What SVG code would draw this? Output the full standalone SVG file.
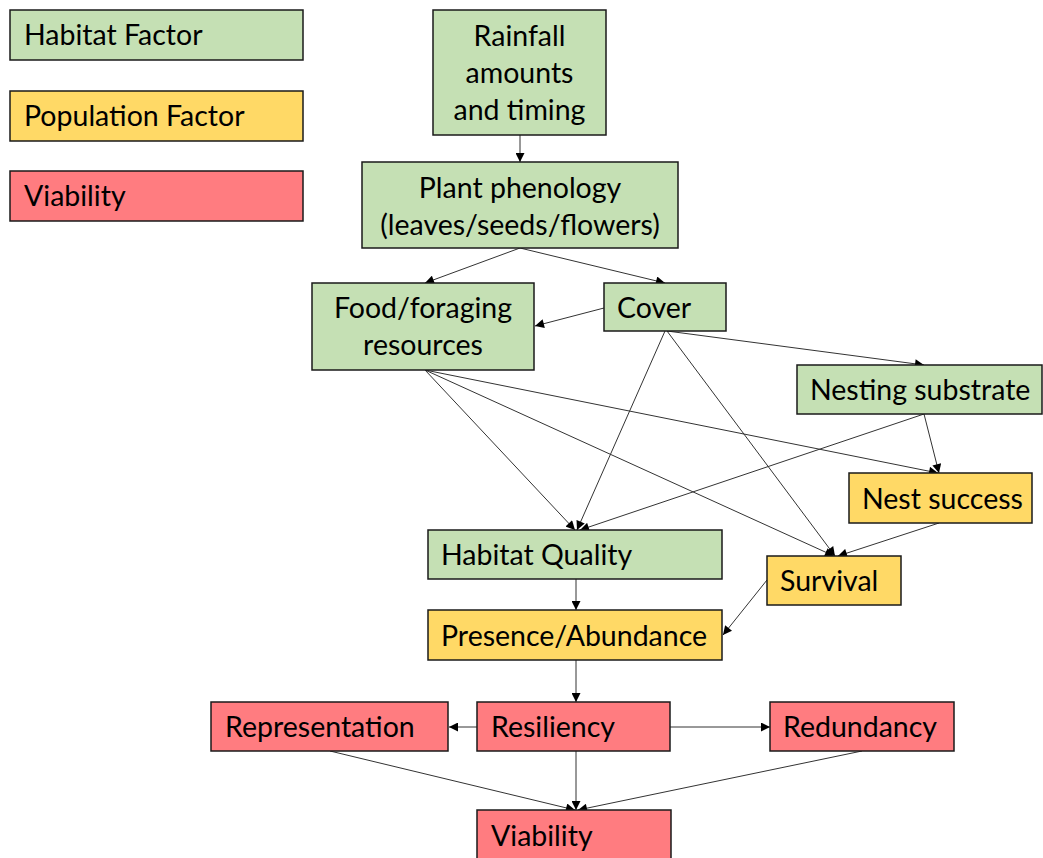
<svg xmlns="http://www.w3.org/2000/svg" width="1043" height="858" viewBox="0 0 1043 858">
<defs>
<marker id="ah" viewBox="0 0 10 10" refX="10" refY="5" markerWidth="10" markerHeight="9" markerUnits="userSpaceOnUse" orient="auto">
<path d="M0,0 L10,5 L0,10 z" fill="#000"/>
</marker>
<style>
.g{fill:#C5E0B4}.y{fill:#FFD966}.r{fill:#FF7C80}
rect{stroke:#1a1a1a;stroke-width:1.5}
text{font-family:Lato,"Open Sans","Liberation Sans",sans-serif;font-size:28.5px;fill:#000}
.c{text-anchor:middle}
#connectors line{stroke:#333;stroke-width:1;marker-end:url(#ah)}
</style>
</defs>
<rect width="1043" height="858" fill="#fff" style="stroke:none"/>
<g id="legend-habitat"><rect class="g" x="10" y="10" width="293" height="50"/><text x="24" y="45">Habitat Factor</text></g>
<g id="legend-population"><rect class="y" x="10" y="91" width="293" height="50"/><text x="24" y="126">Population Factor</text></g>
<g id="legend-viability"><rect class="r" x="10" y="171" width="293" height="50"/><text x="24" y="206">Viability</text></g>

<g id="connectors">
<line x1="520" y1="135" x2="520" y2="162"/>
<line x1="520" y1="248" x2="425" y2="283"/>
<line x1="520" y1="248" x2="665" y2="283"/>
<line x1="604" y1="308" x2="535" y2="326"/>
<line x1="667" y1="331" x2="924" y2="365"/>
<line x1="665" y1="331" x2="577" y2="530"/>
<line x1="667" y1="331" x2="835" y2="556"/>
<line x1="425" y1="370" x2="575" y2="530"/>
<line x1="425" y1="370" x2="834" y2="556"/>
<line x1="425" y1="370" x2="938" y2="473"/>
<line x1="924" y1="414" x2="939" y2="473"/>
<line x1="924" y1="414" x2="580" y2="530"/>
<line x1="939" y1="523" x2="838" y2="556"/>
<line x1="767" y1="580" x2="723" y2="635"/>
<line x1="576" y1="579" x2="576" y2="610"/>
<line x1="576" y1="660" x2="576" y2="702"/>
<line x1="477" y1="727" x2="449" y2="727"/>
<line x1="670" y1="727" x2="770" y2="727"/>
<line x1="330" y1="751" x2="575" y2="810"/>
<line x1="576" y1="751" x2="576" y2="810"/>
<line x1="862" y1="751" x2="578" y2="810"/>
</g>

<g id="rainfall"><rect class="g" x="433" y="10" width="173" height="125"/><text class="c" x="519.5" y="46">Rainfall</text><text class="c" x="519.5" y="83">amounts</text><text class="c" x="519.5" y="120">and timing</text></g>
<g id="plant"><rect class="g" x="362" y="162" width="316" height="86"/><text class="c" x="520" y="198">Plant phenology</text><text class="c" x="520" y="235">(leaves/seeds/flowers)</text></g>
<g id="food"><rect class="g" x="312" y="283" width="222" height="87"/><text class="c" x="423" y="318">Food/foraging</text><text class="c" x="423" y="355">resources</text></g>
<g id="cover"><rect class="g" x="604" y="283" width="122" height="48"/><text x="617" y="318">Cover</text></g>
<g id="nesting"><rect class="g" x="797" y="365" width="245" height="49"/><text x="810" y="400">Nesting substrate</text></g>
<g id="nest-success"><rect class="y" x="849" y="473" width="183" height="50"/><text x="862" y="509">Nest success</text></g>
<g id="habitat-quality"><rect class="g" x="428" y="530" width="294" height="49"/><text x="441" y="565">Habitat Quality</text></g>
<g id="survival"><rect class="y" x="767" y="556" width="134" height="49"/><text x="780" y="591">Survival</text></g>
<g id="presence"><rect class="y" x="428" y="610" width="294" height="50"/><text x="441" y="646">Presence/Abundance</text></g>
<g id="representation"><rect class="r" x="211" y="702" width="237" height="49"/><text x="225" y="737">Representation</text></g>
<g id="resiliency"><rect class="r" x="477" y="702" width="193" height="49"/><text x="491" y="737">Resiliency</text></g>
<g id="redundancy"><rect class="r" x="770" y="702" width="184" height="49"/><text x="783" y="737">Redundancy</text></g>
<g id="viability"><rect class="r" x="477" y="810" width="194" height="60"/><text x="491" y="846">Viability</text></g>
</svg>
